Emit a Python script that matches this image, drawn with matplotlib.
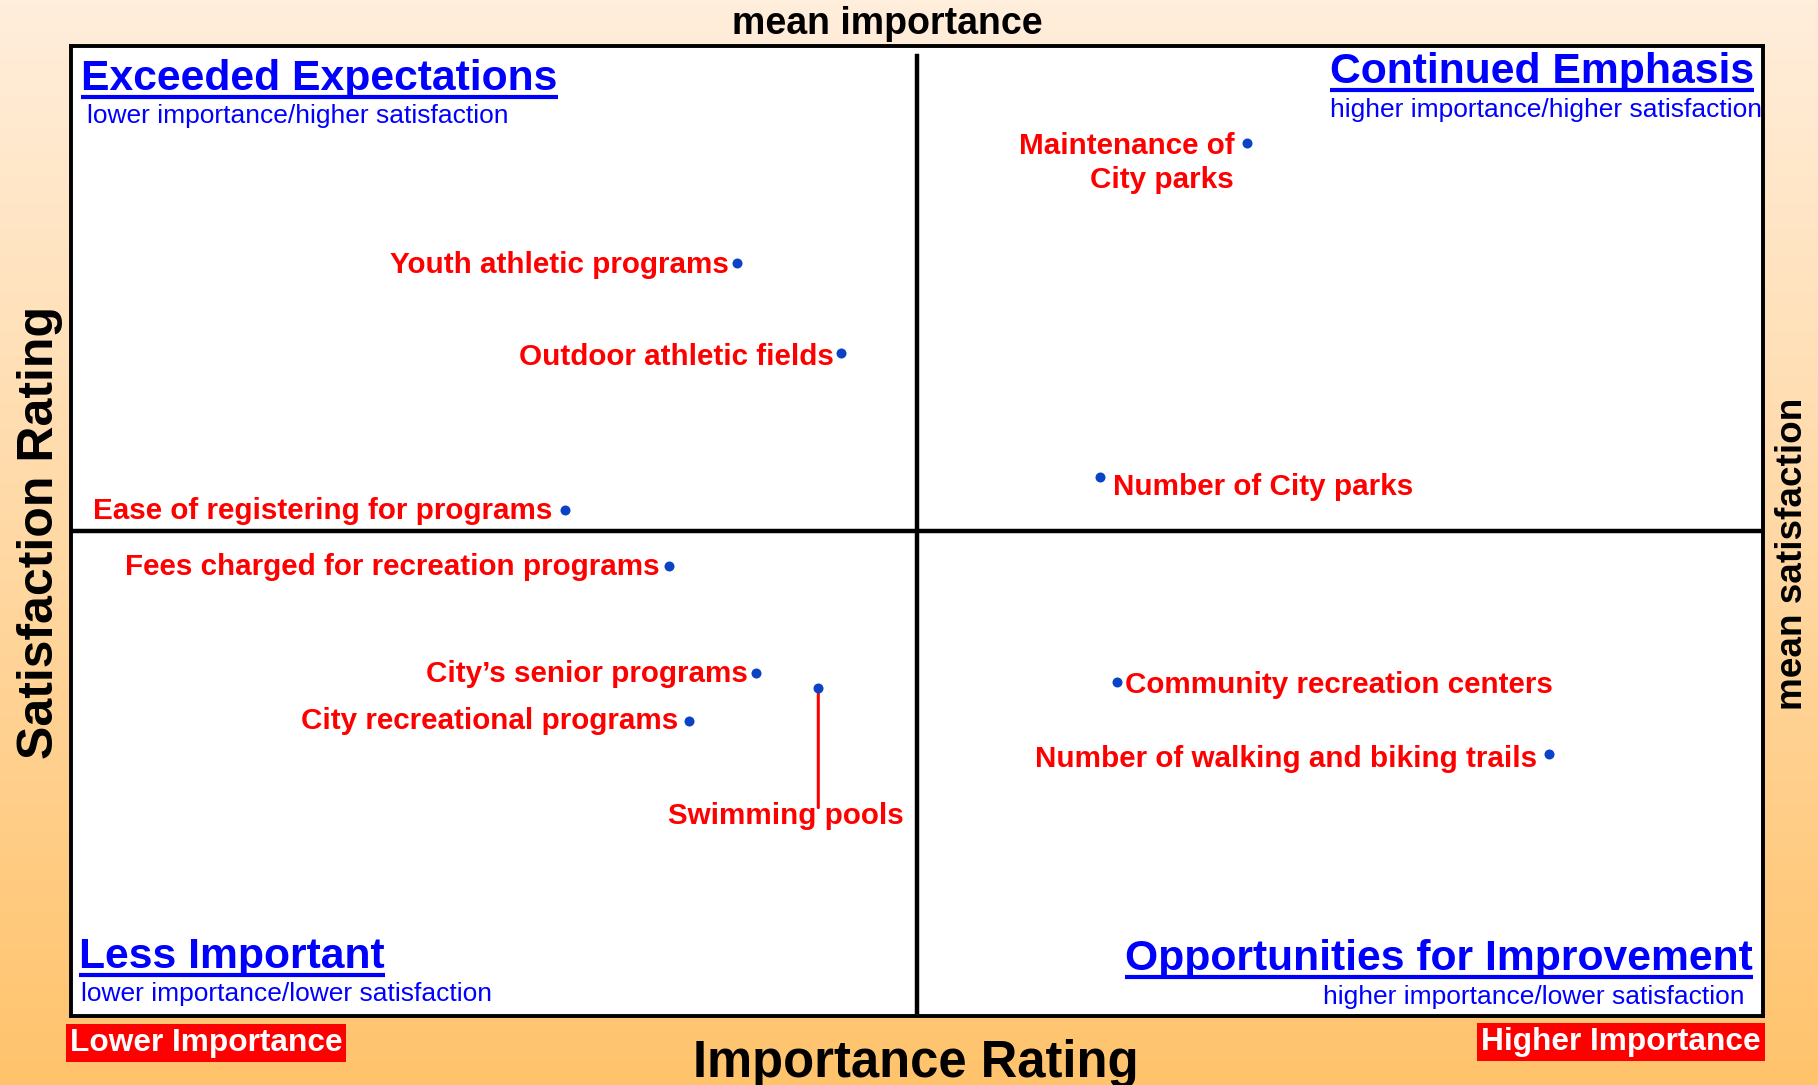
import numpy as np
import matplotlib
matplotlib.use("Agg")
import matplotlib.pyplot as plt
from matplotlib.lines import Line2D
from matplotlib.colors import LinearSegmentedColormap

# ---------------- data ----------------
items = [
    "Maintenance of\nCity parks",
    "Youth athletic programs",
    "Outdoor athletic fields",
    "Ease of registering for programs",
    "Number of City parks",
    "Fees charged for recreation programs",
    "City\u2019s senior programs",
    "Swimming pools",
    "City recreational programs",
    "Community recreation centers",
    "Number of walking and biking trails",
]
importance = [41.7, 23.6, 27.3, 17.5, 36.5, 21.2, 24.3, 26.5, 21.9, 37.1, 52.4]
satisfaction = [85.0, 78.8, 74.2, 66.1, 67.8, 63.2, 57.7, 56.9, 55.2, 57.2, 53.5]
mean_importance = 30.0
mean_satisfaction = 65.0

quadrant_titles = ["Exceeded Expectations", "Continued Emphasis",
                   "Less Important", "Opportunities for Improvement"]
quadrant_subtitles = ["lower importance/higher satisfaction",
                      "higher importance/higher satisfaction",
                      "lower importance/lower satisfaction",
                      "higher importance/lower satisfaction"]

# ---------------- styles / layout ----------------
FONT = "Liberation Sans"
plt.rcParams["font.family"] = [FONT, "DejaVu Sans"]

# label placement: (ha, dx pt, dy pt to baseline of last line)
label_style = [
    ("right", -9.2, -32.5),
    ("right", -5.8, -6.7),
    ("right", -5.0, -9.0),
    ("right", -8.4, -6.7),
    ("left", 9.2, -13.4),
    ("right", -6.7, -6.7),
    ("right", -5.8, -6.7),
    ("center", -23.4, -97.7),
    ("right", -7.5, -5.8),
    ("left", 5.8, -7.5),
    ("right", -8.4, -9.2),
]

W, H = 1818, 1085
fig = plt.figure(figsize=(W / 100, H / 100), dpi=100)

# background gradient
bg = fig.add_axes([0, 0, 1, 1], zorder=-10)
cmap = LinearSegmentedColormap.from_list("bg", ["#FFC36C", "#FFEEDC"])
grad = np.linspace(0, 1, 256).reshape(-1, 1)
bg.imshow(grad, aspect="auto", cmap=cmap, origin="lower", extent=[0, 1, 0, 1])
bg.set_axis_off()

ax = fig.add_axes([71 / W, 1 - 1016 / H, 1692 / W, 970 / H])
ax.set_facecolor("white")
ax.set_xlim(0, 60)
ax.set_ylim(40, 90)
ax.set_xticks([])
ax.set_yticks([])
for s in ax.spines.values():
    s.set_linewidth(2.8)
    s.set_color("black")

ax.axvline(mean_importance, ymin=0.004, ymax=0.99, color="black", lw=3.2)
ax.axhline(mean_satisfaction, color="black", lw=3.2)

ax.scatter(importance, satisfaction, s=52, color="#0B43C6", zorder=5, linewidths=0)

for name, x, y, (ha, dx, dy) in zip(items, importance, satisfaction, label_style):
    ax.annotate(name, (x, y), xytext=(dx, dy), textcoords="offset points",
                ha=ha, va="baseline", color="#FF0000", fontsize=21.3,
                fontweight="bold", multialignment="right", linespacing=1.3)
    if name == "Swimming pools":
        ax.annotate("", (x, y), xytext=(0, -86), textcoords="offset points",
                    arrowprops=dict(arrowstyle="-", color="#FF0000", lw=2.2,
                                    shrinkA=0, shrinkB=0))

# quadrant titles
title_pos = [(0.0062, 0.9545, "left"), (0.9945, 0.9617, "right"),
             (0.0048, 0.049, "left"), (0.9938, 0.0478, "right")]
sub_pos = [(0.0096, 0.921, "left"), (0.9993, 0.927, "right"),
           (0.0062, 0.0156, "left"), (0.989, 0.012, "right")]
title_texts = []
for t, (x, y, ha) in zip(quadrant_titles, title_pos):
    tt = ax.text(x, y, t, transform=ax.transAxes, ha=ha, va="baseline",
                 color="#0000FF", fontsize=30.7, fontweight="bold")
    title_texts.append((tt, x, y))
for t, (x, y, ha) in zip(quadrant_subtitles, sub_pos):
    ax.text(x, y, t, transform=ax.transAxes, ha=ha, va="baseline",
            color="#0000FF", fontsize=19)

# axis / mean labels
fig.text(887 / W, 1 - 24 / H, "mean importance", ha="center", va="center",
         fontsize=27, fontweight="bold", color="black")
fig.text(916 / W, 8 / H, "Importance Rating", ha="center", va="baseline",
         fontsize=36.5, fontweight="bold", color="black")
fig.text(40 / W, 1 - 533 / H, "Satisfaction Rating", ha="center", va="center",
         rotation=90, fontsize=36, fontweight="bold", color="black")
fig.text(1792 / W, 1 - 554 / H, "mean satisfaction", ha="center", va="center",
         rotation=90, fontsize=26.6, fontweight="bold", color="black")

fig.text(206 / W, 1 - 1043 / H, "Lower Importance", ha="center", va="center",
         fontsize=22.8, fontweight="bold", color="white",
         bbox=dict(boxstyle="square,pad=0.12", fc="#FF0000", ec="none"))
fig.text(1621 / W, 1 - 1042 / H, "Higher Importance", ha="center", va="center",
         fontsize=22.8, fontweight="bold", color="white",
         bbox=dict(boxstyle="square,pad=0.12", fc="#FF0000", ec="none"))

# underlines for quadrant titles
fig.canvas.draw()
renderer = fig.canvas.get_renderer()
inv = fig.transFigure.inverted()
for tt, x, y in title_texts:
    bb = tt.get_window_extent(renderer)
    base_px = ax.transAxes.transform((x, y))[1]
    uy = base_px - 7
    (fx0, fy), (fx1, _) = inv.transform([(bb.x0, uy), (bb.x1, uy)])
    fig.add_artist(Line2D([fx0, fx1], [fy, fy], transform=fig.transFigure,
                          color="#0000FF", lw=3.0, solid_capstyle="butt"))

fig.savefig("out.png", dpi=100)
